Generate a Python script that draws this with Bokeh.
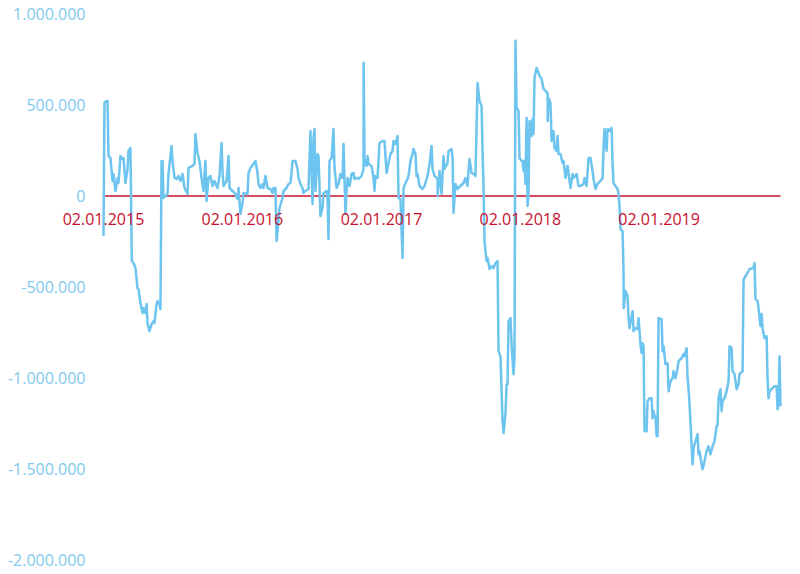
import pandas as pd
from bokeh.plotting import figure
from bokeh.models import Range1d, FixedTicker, DatetimeTickFormatter
from bokeh.embed import file_html
from bokeh.resources import INLINE

# time as decimal years (2015.000 = 02.01.2015)
years = [
    2015.000, 2015.007, 2015.022, 2015.029, 2015.036, 2015.050, 2015.065, 2015.072, 2015.086, 2015.101,
    2015.108, 2015.122, 2015.137, 2015.144, 2015.158, 2015.173, 2015.180, 2015.194, 2015.202, 2015.204,
    2015.216, 2015.230, 2015.245, 2015.252, 2015.266, 2015.281, 2015.288, 2015.302, 2015.310, 2015.317,
    2015.331, 2015.346, 2015.360, 2015.367, 2015.382, 2015.389, 2015.403, 2015.410, 2015.418, 2015.425,
    2015.432, 2015.446, 2015.461, 2015.468, 2015.490, 2015.497, 2015.511, 2015.526, 2015.540, 2015.554,
    2015.569, 2015.583, 2015.605, 2015.612, 2015.641, 2015.655, 2015.662, 2015.677, 2015.691, 2015.706,
    2015.720, 2015.734, 2015.742, 2015.756, 2015.770, 2015.785, 2015.799, 2015.821, 2015.835, 2015.850,
    2015.857, 2015.864, 2015.886, 2015.900, 2015.907, 2015.929, 2015.950, 2015.965, 2015.972, 2015.986,
    2016.001, 2016.008, 2016.037,
    2016.044, 2016.058, 2016.080, 2016.094, 2016.109, 2016.116, 2016.130, 2016.145, 2016.152, 2016.166,
    2016.181, 2016.202, 2016.217, 2016.224, 2016.238, 2016.246, 2016.253, 2016.267, 2016.289, 2016.296,
    2016.318, 2016.332, 2016.346, 2016.354, 2016.361, 2016.382, 2016.397, 2016.404, 2016.418, 2016.433,
    2016.440, 2016.454, 2016.476, 2016.490, 2016.505, 2016.512, 2016.519, 2016.526, 2016.541, 2016.548,
    2016.562, 2016.577, 2016.584, 2016.606, 2016.613, 2016.620, 2016.627, 2016.642, 2016.656, 2016.663,
    2016.678, 2016.692, 2016.706, 2016.721, 2016.728, 2016.742, 2016.750, 2016.757, 2016.771, 2016.786,
    2016.800, 2016.807, 2016.822, 2016.836, 2016.858, 2016.872, 2016.873, 2016.879, 2016.894, 2016.901,
    2016.908, 2016.930, 2016.944, 2016.951, 2016.958, 2016.973, 2016.987,
    2017.009, 2017.023, 2017.038, 2017.045, 2017.066, 2017.081, 2017.088, 2017.102, 2017.117, 2017.124,
    2017.138, 2017.153, 2017.160, 2017.174, 2017.189, 2017.196, 2017.210, 2017.225, 2017.232, 2017.246,
    2017.254, 2017.261, 2017.275, 2017.297, 2017.311, 2017.333, 2017.347, 2017.362, 2017.369, 2017.383,
    2017.405, 2017.406, 2017.419, 2017.434, 2017.448, 2017.455, 2017.477, 2017.484, 2017.506, 2017.513,
    2017.520, 2017.534, 2017.549, 2017.570, 2017.592, 2017.606, 2017.621, 2017.628, 2017.635, 2017.650,
    2017.664, 2017.678, 2017.693, 2017.707, 2017.722, 2017.729, 2017.736, 2017.743, 2017.758, 2017.765,
    2017.779, 2017.794, 2017.808, 2017.822, 2017.837, 2017.844, 2017.858, 2017.873, 2017.880, 2017.894,
    2017.902, 2017.909, 2017.916, 2017.930, 2017.938, 2017.952, 2017.959, 2017.966, 2017.974, 2017.988,
    2017.995,
    2018.010, 2018.017, 2018.024, 2018.031, 2018.038, 2018.046, 2018.053, 2018.060, 2018.067, 2018.082,
    2018.089, 2018.096, 2018.103, 2018.118, 2018.132, 2018.139, 2018.154, 2018.168, 2018.182, 2018.197,
    2018.198, 2018.204, 2018.218, 2018.226, 2018.240, 2018.247, 2018.262, 2018.269, 2018.276, 2018.290,
    2018.305, 2018.312, 2018.326, 2018.341, 2018.348, 2018.362, 2018.377, 2018.384, 2018.406, 2018.420,
    2018.434, 2018.456, 2018.463, 2018.478, 2018.492, 2018.506, 2018.521, 2018.528, 2018.542, 2018.557,
    2018.578, 2018.593, 2018.600, 2018.607, 2018.622, 2018.629, 2018.643, 2018.658, 2018.665, 2018.672,
    2018.686, 2018.701, 2018.708, 2018.715, 2018.722, 2018.737, 2018.744, 2018.745, 2018.758, 2018.773,
    2018.780, 2018.787, 2018.809, 2018.816, 2018.830, 2018.845, 2018.852, 2018.866, 2018.874, 2018.881,
    2018.888, 2018.895, 2018.910, 2018.917, 2018.931, 2018.946, 2018.953, 2018.960, 2018.967, 2018.974,
    2018.982, 2018.989, 2018.996,
    2019.018, 2019.025, 2019.032, 2019.046, 2019.061, 2019.068, 2019.082, 2019.097, 2019.104, 2019.118,
    2019.133, 2019.140, 2019.162, 2019.176, 2019.183, 2019.198, 2019.205, 2019.212, 2019.219, 2019.234,
    2019.241, 2019.248, 2019.262, 2019.277, 2019.284, 2019.291, 2019.306, 2019.313, 2019.327, 2019.342,
    2019.356, 2019.370, 2019.385, 2019.399, 2019.414, 2019.421, 2019.428, 2019.442, 2019.450, 2019.457,
    2019.471, 2019.486, 2019.500, 2019.507, 2019.522, 2019.529, 2019.543, 2019.558, 2019.572, 2019.579,
    2019.601, 2019.608, 2019.615, 2019.630, 2019.644, 2019.651, 2019.673, 2019.680, 2019.687, 2019.694,
    2019.709, 2019.716, 2019.730, 2019.738, 2019.745, 2019.759, 2019.774, 2019.781, 2019.788, 2019.795,
    2019.817, 2019.831, 2019.846, 2019.853, 2019.860, 2019.867, 2019.874,
]

values = [
    -220000, 511500, 522500, 522500, 220000, 209000, 82500, 121000, 27500, 99000,
    71500, 220000, 203500, 209000, 71500, 148500, 247500, 264000, -247500, -357500,
    -368500, -396000, -506000, -511500, -588500, -643500, -616000, -643500, -594000, -698500,
    -742500, -704000, -687500, -698500, -594000, -577500, -594000, -621500, 192500, 192500,
    -11000, 0, 11000, 121000, 275000, 192500, 99000, 93500, 110000, 82500,
    121000, 44000, 11000, 154000, 165000, 176000, 341000, 236500, 192500, 99000,
    27500, 192500, -27500, 99000, 110000, 55000, 82500, 44000, 110000, 291500,
    137500, 55000, 82500, 220000, 44000, 27500, 11000, -16500, 44000, -99000,
    -38500, 16500, 11000,
    126500, 154000, 176000, 192500, 126500, 66000, 44000, 66000, 44000, 110000,
    44000, 38500, 16500, 44000, 44000, -247500, -192500, -66000, -11000, 27500,
    44000, 66000, 71500, 126500, 192500, 192500, 148500, 99000, 66000, 44000,
    16500, 27500, 38500, 357500, -44000, 319000, 368500, 27500, 231000, 220000,
    -110000, -66000, 16500, 27500, -11000, -236500, 192500, 209000, 368500, 154000,
    44000, 66000, 121000, 99000, 286000, -99000, 27500, 99000, 55000, 121000,
    126500, 93500, 99000, 93500, 110000, 148500, 731500, 192500, 165000, 220000,
    176000, 165000, 99000, 27500, 110000, 99000, 291500,
    302500, 302500, 126500, 154000, 231000, 247500, 302500, 286000, 330000, -11000,
    -16500, -341000, 44000, 71500, 93500, 110000, 192500, 231000, 258500, 231000,
    110000, 121000, 55000, 38500, 55000, 110000, 176000, 275000, 148500, 110000,
    93500, 0, 137500, 11000, 220000, 148500, 181500, 247500, 258500, 209000,
    -93500, 66000, 38500, 55000, 71500, 99000, 55000, 137500, 203500, 126500,
    121000, 110000, 621500, 522500, 495000, 247500, 44000, -247500, -357500, -341000,
    -401500, -385000, -396000, -368500, -357500, -852500, -880000, -1237500, -1303500, -1199000,
    -1034000, -1034000, -687500, -671000, -814000, -979000, -891000, 852500, 484000, 467500,
    209000,
    192500, 192500, 137500, 192500, 66000, 429000, -55000, 11000, 412500, 330000,
    423500, 341000, 649000, 704000, 676500, 660000, 643500, 588500, 577500, 566500,
    412500, 539000, 511500, 302500, 357500, 264000, 247500, 330000, 231000, 231000,
    181500, 192500, 99000, 165000, 126500, 44000, 121000, 99000, 121000, 55000,
    55000, 66000, 99000, 55000, 209000, 209000, 137500, 93500, 38500, 66000,
    82500, 99000, 264000, 368500, 247500, 368500, 357500, 374000, 176000, 71500,
    55000, 38500, 11000, -55000, -181500, -192500, -412500, -616000, -522500, -550000,
    -671000, -726000, -632500, -742500, -726000, -731500, -671000, -814000, -863500, -808500,
    -825000, -1292500, -1292500, -1127500, -1111000, -1111000, -1221000, -1182500, -1210000, -1210000,
    -1320000, -1320000, -671000,
    -676500, -852500, -825000, -924000, -918500, -1072500, -1017500, -1001000, -962500, -1001000,
    -946000, -907500, -891000, -869000, -880000, -836000, -1001000, -1056000, -1144000, -1364000,
    -1474000, -1386000, -1347500, -1309000, -1419000, -1402500, -1474000, -1501500, -1457500, -1402500,
    -1375000, -1419000, -1375000, -1347500, -1265000, -1259500, -1111000, -1061500, -1182500, -1127500,
    -1111000, -1072500, -1017500, -825000, -836000, -962500, -979000, -1061500, -1034000, -979000,
    -962500, -456500, -451000, -429000, -412500, -401500, -396000, -390500, -368500, -566500,
    -577500, -616000, -715000, -649000, -726000, -781000, -770000, -1006500, -1111000, -1072500,
    -1056000, -1045000, -1045000, -1171500, -1138500, -880000, -1155000,
]

tick_dates = ["2015-01-02", "2016-01-02", "2017-01-02", "2018-01-02", "2019-01-02"]
y_ticks = [1000000, 500000, 0, -500000, -1000000, -1500000, -2000000]
y_tick_labels = ["1.000.000", "500.000", "0", "-500.000", "-1.000.000", "-1.500.000", "-2.000.000"]

start = pd.Timestamp("2015-01-02")
dates = [start + pd.Timedelta(days=(t - 2015.0) * 365.25) for t in years]

LINE_BLUE = "#6DC4EE"
LABEL_BLUE = "#80CAEE"
RED = "#C8102E"
FONT = "Open Sans"

W, H = 784, 572
# layout: frame fills the figure; data spans from px 103 to 780, y from 1M at px 13.5 to -2M at px 559.5
x0_ms = dates[0].value / 1e6
x1_ms = dates[-1].value / 1e6
ms_per_px = (x1_ms - x0_ms) / (780 - 103)
v_per_px = (max(y_ticks) - min(y_ticks)) / (559.5 - 13.5)

p = figure(width=W, height=H, x_axis_type="datetime",
           output_backend="svg", toolbar_location=None,
           x_range=Range1d(x0_ms - 103 * ms_per_px, x1_ms + (W - 780) * ms_per_px),
           y_range=Range1d(min(y_ticks) - (H - 559.5) * v_per_px, max(y_ticks) + 13.5 * v_per_px),
           min_border=0)
p.outline_line_color = None
p.xgrid.visible = False
p.ygrid.visible = False
p.background_fill_color = "white"
p.border_fill_color = "white"

# zero line across the data extent
p.segment(x0=[dates[0]], y0=[0], x1=[dates[-1]], y1=[0], line_color=RED, line_width=1.6)

p.line(dates, values, line_color=LINE_BLUE, line_width=2.5, line_join="round")

# x axis at zero
xa = p.xaxis[0]
xa.fixed_location = 0
xa.ticker = FixedTicker(ticks=[pd.Timestamp(d).value / 1e6 for d in tick_dates])
xa.formatter = DatetimeTickFormatter(days="%d.%m.%Y", months="%d.%m.%Y", years="%d.%m.%Y",
                                     hours="%d.%m.%Y", minutes="%d.%m.%Y")
xa.axis_line_color = None
xa.major_tick_line_color = None
xa.minor_tick_line_color = None
xa.major_tick_out = 0
xa.major_tick_in = 0
xa.major_label_standoff = 17
xa.major_label_text_color = RED
xa.major_label_text_font = FONT
xa.major_label_text_font_size = "16px"

# y axis at the first date
ya = p.yaxis[0]
ya.fixed_location = x0_ms
ya.ticker = FixedTicker(ticks=y_ticks)
ya.major_label_overrides = {v: s for v, s in zip(y_ticks, y_tick_labels)}
ya.axis_line_color = None
ya.major_tick_line_color = None
ya.minor_tick_line_color = None
ya.major_tick_out = 0
ya.major_tick_in = 0
ya.major_label_standoff = 18
ya.major_label_text_color = LABEL_BLUE
ya.major_label_text_font = FONT
ya.major_label_text_font_size = "16px"

open("out.html", "w").write(file_html(p, INLINE))
